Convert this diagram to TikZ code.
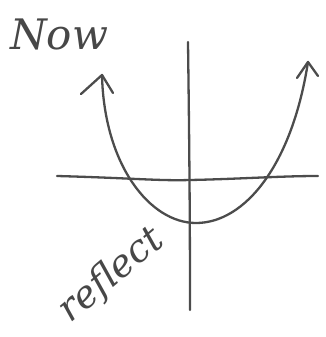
\documentclass[tikz,border=0pt]{standalone}
\usepackage{fontspec}
\setmainfont{DejaVu Serif}
\begin{document}
\begin{tikzpicture}[x=1pt,y=-1pt,
  pen/.style={draw=black!70,line width=2.3pt,line cap=round,line join=round},
  hand/.style={text=black!72,inner sep=0pt}]
\useasboundingbox (0,0) rectangle (326,337);
% axes
\draw[pen] (57,176) .. controls (130,178) and (160,181) .. (190,180) .. controls (240,179) and (280,176) .. (318,176);
\draw[pen] (188,42) .. controls (189,120) and (190,200) .. (190,310);
% parabola
\draw[pen] (102,75) .. controls (104,165) and (150,223) .. (196,223)
  .. controls (245,223) and (292,165) .. (308,62);
% arrowheads
\draw[pen] (81,94) -- (102,75) -- (113,93);
\draw[pen] (297,78) -- (308,62) -- (318,76);
% labels
\node[hand,font=\fontsize{42}{42}\selectfont\itshape,anchor=base west] (now) at (10,50) {Now};
\node[hand,font=\fontsize{38}{38}\selectfont\itshape,rotate=40,anchor=base west] (reflect) at (70,324) {reflect};
\end{tikzpicture}
\end{document}
